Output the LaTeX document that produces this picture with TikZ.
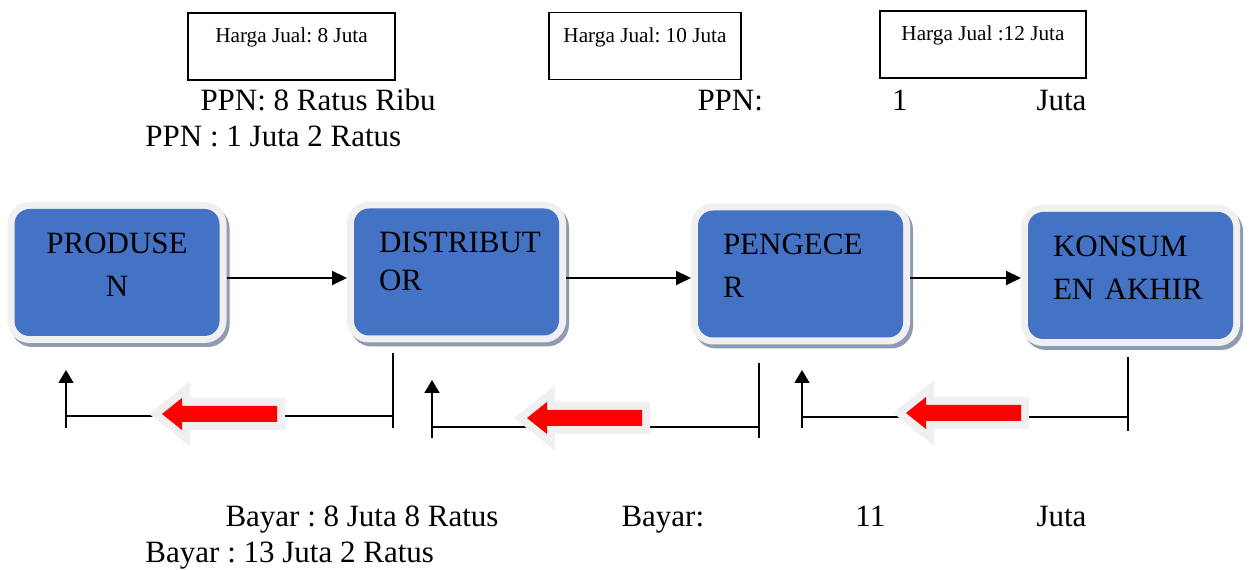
\documentclass[tikz,border=0pt]{standalone}
\usepackage{fontspec}
\setmainfont{Liberation Serif}
\usetikzlibrary{arrows.meta}

\newlength\pxu
\setlength\pxu{0.4pt}

\definecolor{boxblue}{HTML}{4472C4}
\definecolor{halogray}{HTML}{F0F0F0}
\definecolor{shadowgray}{HTML}{8E9BB3}

\tikzset{
  mainbox/.style={rounded corners=15\pxu, fill=boxblue, line width=14\pxu,
    preaction={draw=shadowgray, fill=shadowgray,
      transform canvas={shift={(3\pxu,-4\pxu)}}},
    preaction={draw=halogray},
    minimum width=205\pxu, minimum height=127\pxu,
    inner xsep=25\pxu, text width=155\pxu, align=left, text depth=59\pxu,
    font=\fontsize{12.4}{17.2}\selectfont},
  pricebox/.style={draw, line width=1.5\pxu, inner sep=0pt,
    text height=30\pxu, text depth=37\pxu,
    font=\fontsize{8.5}{10}\selectfont},
  note/.style={inner sep=0pt, anchor=base west,
    font=\fontsize{12.4}{15}\selectfont},
  flow/.style={line width=2\pxu, -{Triangle[length=6pt,width=5.6pt]}},
  payline/.style={line width=1.6\pxu},
  uparrow/.style={payline, -{Triangle[length=5.2pt,width=6pt]}},
  % red block arrow with light rim and shadow, tip at the origin
  payarrow/.pic={
    \path[line width=16\pxu, line join=miter,
      preaction={draw=shadowgray, fill=shadowgray,
        transform canvas={shift={(3\pxu,-3\pxu)}}},
      draw=halogray, postaction={fill=red}]
      (0,0) -- (20,-16) -- (20,-8) -- (115,-8) -- (115,8) -- (20,8)
      -- (20,16) -- cycle;
  }
}

\begin{document}
\frenchspacing
\begin{tikzpicture}[x=\pxu, y=-\pxu]
\useasboundingbox (0,0) rectangle (1249,570);

% price boxes
\node[pricebox, minimum width=207\pxu] (jual1) at (291.5,46.5) {Harga Jual: 8 Juta};
\node[pricebox, minimum width=192\pxu] (jual2) at (645,46) {Harga Jual: 10 Juta};
\node[pricebox, minimum width=206\pxu] (jual3) at (983,44.5) {Harga Jual :12 Juta};

% tax lines
\node[note] (ppn1) at (200,111) {PPN: 8 Ratus Ribu};
\node[note] (ppn2) at (145,147) {PPN : 1 Juta 2 Ratus};
\node[note] (ppn3) at (697,111) {\makebox[389\pxu][s]{PPN: 1 Juta}};

% chain
\node[mainbox, align=center] (prod) at (117,272.5) {PRODUSE\\N};
\node[mainbox, font=\fontsize{12.4}{15.2}\selectfont] (dist) at (456.5,272) {DISTRIBUT\\OR};
\node[mainbox] (peng) at (800.5,274) {PENGECE\\R};
\node[mainbox] (kons) at (1130.5,275.5) {KONSUM\\EN AKHIR};

\coordinate (flowy) at (0,278);
\draw[flow] (prod.east |- flowy) -- (dist.west |- flowy);
\draw[flow] (dist.east |- flowy) -- (peng.west |- flowy);
\draw[flow] (peng.east |- flowy) -- (kons.west |- flowy);

% payments going back
\coordinate (pay1top) at (393,353);
\coordinate (pay1bot) at (393,428);
\coordinate (pay1r) at (393,416);
\coordinate (pay1l) at (66,416);
\coordinate (pay1end) at (66,428);
\coordinate (pay1tip) at (66,370);
\draw[payline] (pay1top) -- (pay1bot);
\draw[payline] (pay1r) -- (pay1l);
\draw[uparrow] (pay1end) -- (pay1tip);

\coordinate (pay2top) at (759,363);
\coordinate (pay2bot) at (759,438);
\coordinate (pay2r) at (759,427);
\coordinate (pay2l) at (432,427);
\coordinate (pay2end) at (432,438);
\coordinate (pay2tip) at (432,380);
\draw[payline] (pay2top) -- (pay2bot);
\draw[payline] (pay2r) -- (pay2l);
\draw[uparrow] (pay2end) -- (pay2tip);

\coordinate (pay3top) at (1128,357);
\coordinate (pay3bot) at (1128,431);
\coordinate (pay3r) at (1128,417);
\coordinate (pay3l) at (802,417);
\coordinate (pay3end) at (802,428);
\coordinate (pay3tip) at (802,370);
\draw[payline] (pay3top) -- (pay3bot);
\draw[payline] (pay3r) -- (pay3l);
\draw[uparrow] (pay3end) -- (pay3tip);

\pic at (162,414) {payarrow};
\pic at (527,418) {payarrow};
\pic at (906,413) {payarrow};

% payment amounts
\node[note] (bayar1) at (225,527) {Bayar : 8 Juta 8 Ratus};
\node[note] (bayar2) at (621,527) {\makebox[465\pxu][s]{Bayar: 11 Juta}};
\node[note] (bayar3) at (145,563) {Bayar : 13 Juta 2 Ratus};

\end{tikzpicture}
\end{document}
